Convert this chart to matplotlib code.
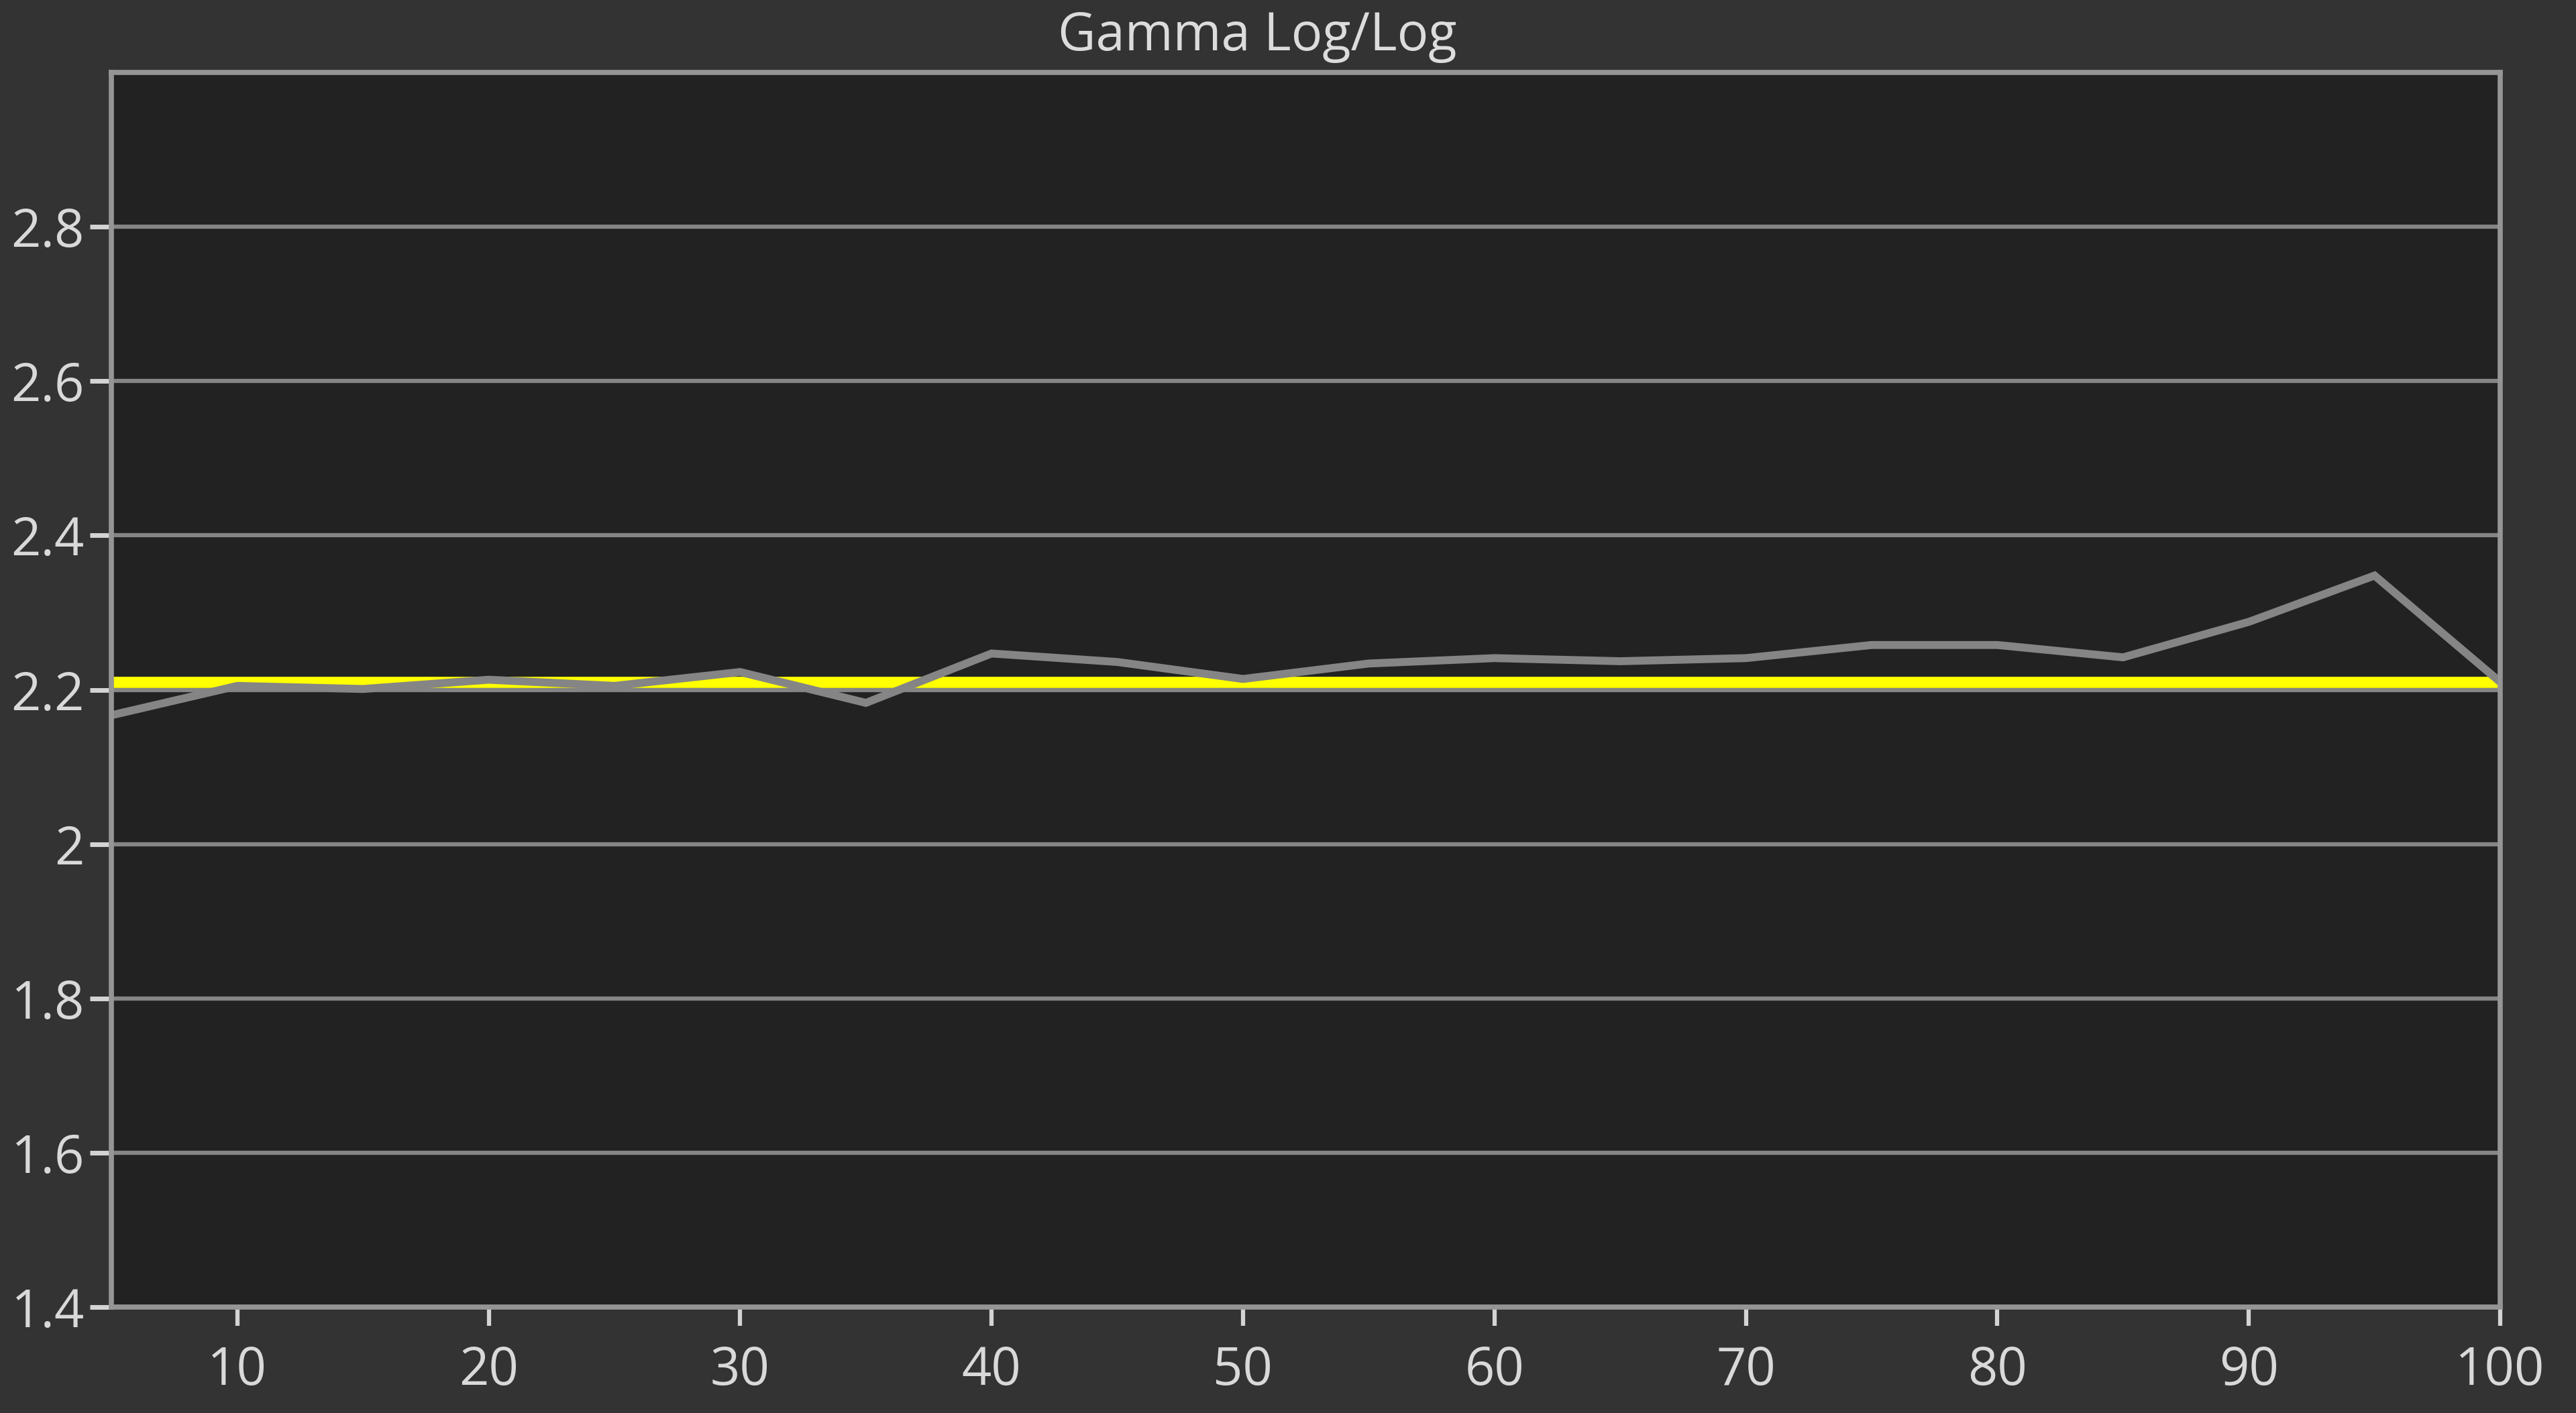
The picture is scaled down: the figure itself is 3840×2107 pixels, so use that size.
import matplotlib
matplotlib.use("Agg")
import matplotlib.pyplot as plt
from matplotlib.ticker import FuncFormatter

# Data
x_values = [5, 10, 15, 20, 25, 30, 35, 40, 45, 50, 55, 60, 65, 70, 75, 80, 85, 90, 95, 100]
gamma_values = [2.167, 2.205, 2.201, 2.213, 2.205, 2.223, 2.183, 2.247, 2.236, 2.214,
                2.234, 2.241, 2.237, 2.241, 2.258, 2.258, 2.242, 2.288, 2.348, 2.21]
target_gamma = 2.21
y_ticks = [1.4, 1.6, 1.8, 2.0, 2.2, 2.4, 2.6, 2.8]
x_ticks = [10, 20, 30, 40, 50, 60, 70, 80, 90, 100]
title = "Gamma Log/Log"

plt.rcParams['font.family'] = ['Open Sans', 'DejaVu Sans']

fig = plt.figure(figsize=(38.4, 21.07), dpi=100, facecolor="#333333")
ax = fig.add_axes([0.0433, 0.075, 0.9273, 0.8737])
ax.set_facecolor("#222222")

ax.set_xlim(5, 100)
ax.set_ylim(1.4, 3.0)

for yt in y_ticks[1:]:
    ax.axhline(yt, color="#858585", lw=4.5, zorder=1)

ax.axhline(target_gamma, color="#ffff00", lw=12, zorder=2)
ax.plot(x_values, gamma_values, color="#858585", lw=8.5, zorder=3, solid_joinstyle="miter")

ax.set_xticks(x_ticks)
ax.set_yticks(y_ticks)
ax.yaxis.set_major_formatter(FuncFormatter(lambda v, p: ("%g" % round(v, 1))))

ax.tick_params(axis="y", colors="#d4d4d4", labelcolor="#d9d9d9", length=23, width=5,
               pad=6, labelsize=56)
ax.tick_params(axis="x", colors="#d4d4d4", labelcolor="#d9d9d9", length=20, width=4.5,
               pad=20, labelsize=56)

for s in ax.spines.values():
    s.set_color("#959595")
    s.set_linewidth(5.5)
    s.set_zorder(4)

fig.text(0.488, 0.974, title, ha="center", va="center", color="#dcdcdc", fontsize=56)

fig.savefig("out.png", dpi=100, facecolor=fig.get_facecolor())
